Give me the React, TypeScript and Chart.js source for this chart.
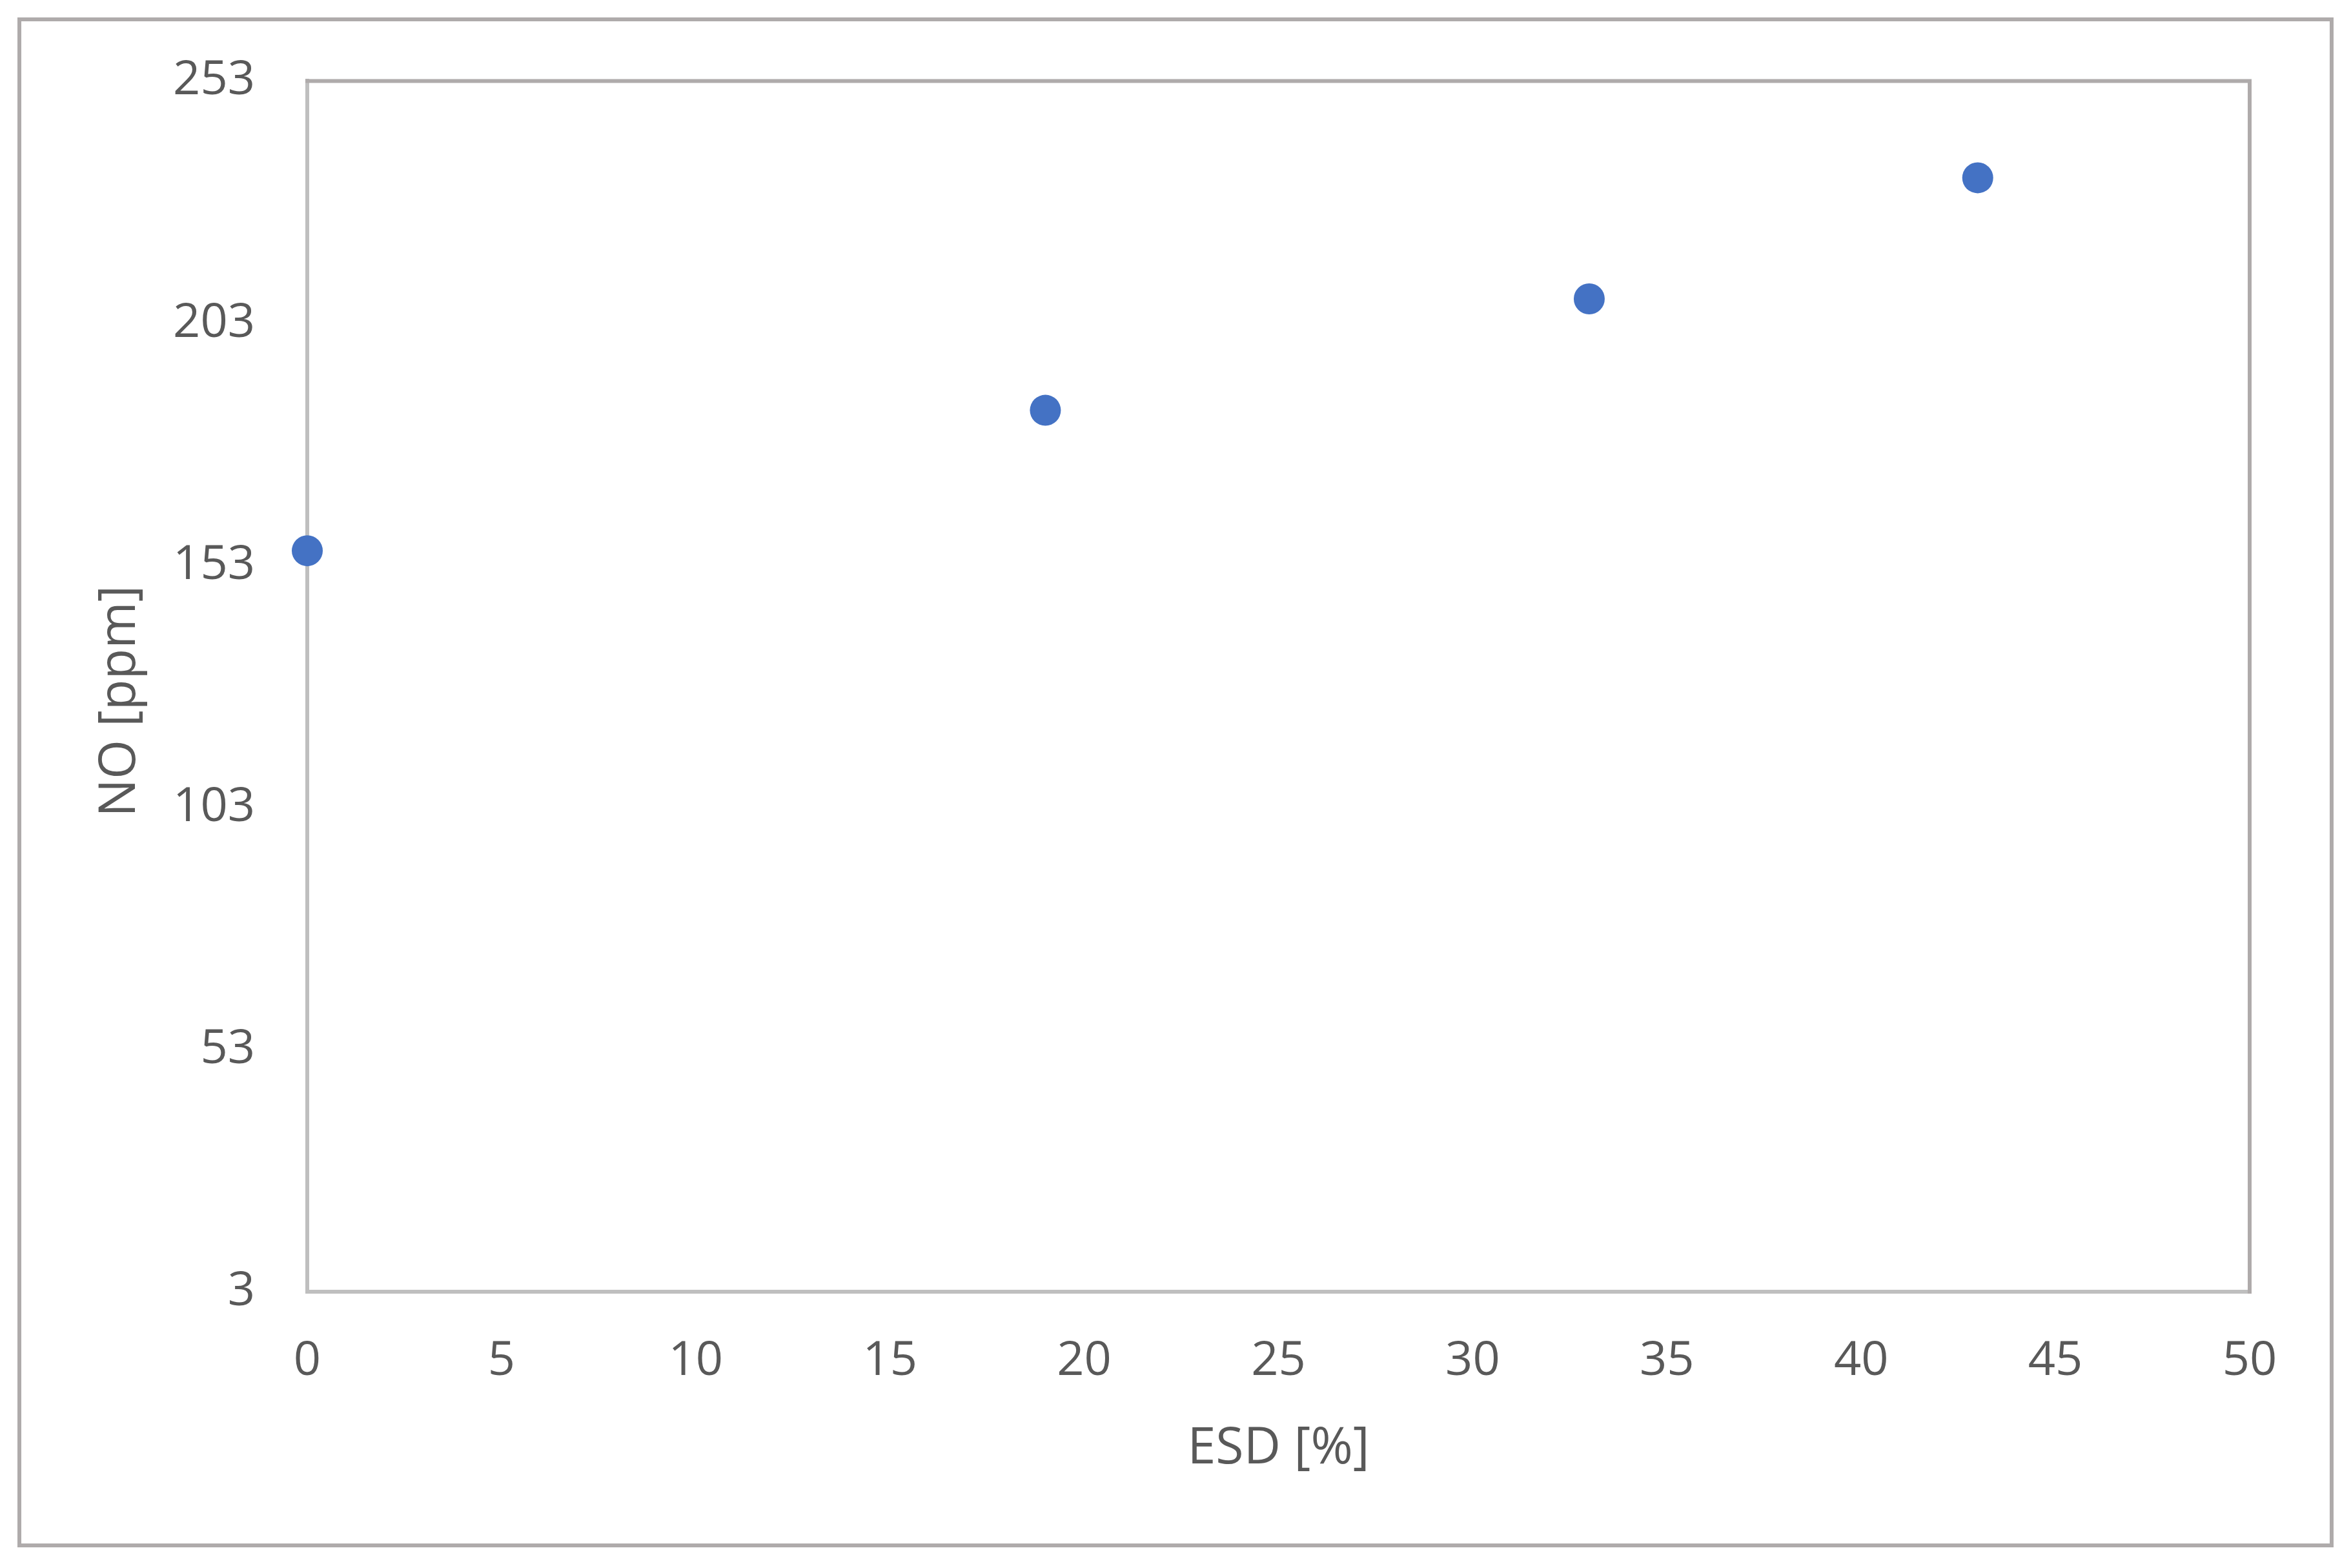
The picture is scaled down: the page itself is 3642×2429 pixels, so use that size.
import React, { useEffect, useRef } from "react";
import { Chart, registerables } from "chart.js";

Chart.register(...registerables);

// ---- Data ----
const esd: number[] = [0, 19, 33, 43];
const noPpm: number[] = [156, 185, 208, 233];
const xTicks: number[] = [0, 5, 10, 15, 20, 25, 30, 35, 40, 45, 50];
const yTicks: number[] = [3, 53, 103, 153, 203, 253];
const xTitle = "ESD [%]";
const yTitle = "NO [ppm]";

const W = 3642;
const H = 2429;
const FONT = "'Open Sans', 'Noto Sans', sans-serif";
const TEXT = "#595959";

const framePlugin = {
  id: "frame",
  beforeDraw(chart: any) {
    const ctx = chart.ctx;
    ctx.save();
    ctx.fillStyle = "#ffffff";
    ctx.fillRect(0, 0, chart.width, chart.height);
    ctx.strokeStyle = "#AFABAB";
    ctx.lineWidth = 6;
    ctx.strokeRect(30, 30, chart.width - 60, chart.height - 65);
    ctx.restore();
  },
  beforeDatasetsDraw(chart: any) {
    const ctx = chart.ctx;
    const { left, right, top, bottom } = chart.chartArea;
    ctx.save();
    ctx.strokeStyle = "#AFABAB";
    ctx.lineWidth = 6;
    ctx.lineCap = "square";
    ctx.beginPath();
    ctx.moveTo(left, top);
    ctx.lineTo(right, top);
    ctx.lineTo(right, bottom);
    ctx.stroke();
    ctx.restore();
  },
  afterDraw(chart: any) {
    // Y-axis title, placed like the original (slightly below the plot's middle)
    const ctx = chart.ctx;
    const { top, bottom } = chart.chartArea;
    ctx.save();
    ctx.translate(187, (top + bottom) / 2 + 23);
    ctx.rotate(-Math.PI / 2);
    ctx.fillStyle = TEXT;
    ctx.font = `78px ${FONT}`;
    ctx.textAlign = "center";
    ctx.textBaseline = "middle";
    ctx.fillText(yTitle, 0, 0);
    ctx.restore();
  },
};

export default function App() {
  const ref = useRef<HTMLCanvasElement | null>(null);

  useEffect(() => {
    document.body.style.margin = "0";
    const canvas = ref.current;
    if (!canvas) return;
    const chart = new Chart(canvas, {
      type: "scatter",
      data: {
        datasets: [
          {
            label: yTitle,
            data: esd.map((x, i) => ({ x, y: noPpm[i] })),
            backgroundColor: "#4472C4",
            borderWidth: 0,
            pointRadius: 24,
            pointHoverRadius: 24,
            clip: false as any,
          },
        ],
      },
      options: {
        animation: false,
        responsive: false,
        devicePixelRatio: 1,
        layout: { padding: { left: 0, top: 121, right: 157, bottom: 0 } },
        plugins: {
          legend: { display: false },
          tooltip: { enabled: false },
        },
        scales: {
          x: {
            type: "linear",
            position: "bottom",
            min: 0,
            max: 50,
            afterBuildTicks: (s: any) => {
              s.ticks = xTicks.map((v) => ({ value: v }));
            },
            afterFit: (s: any) => {
              s.height = H - 2001;
            },
            grid: { display: false, drawTicks: false },
            border: { display: true, color: "#BFBFBF", width: 6 },
            ticks: {
              padding: 64,
              color: TEXT,
              font: { family: FONT, size: 74 },
              maxRotation: 0,
              autoSkip: false,
            },
            title: {
              display: true,
              text: xTitle,
              color: TEXT,
              font: { family: FONT, size: 79 },
              padding: { top: 0, bottom: 137 },
            },
          },
          y: {
            type: "linear",
            position: "left",
            min: 3,
            max: 253,
            afterBuildTicks: (s: any) => {
              s.ticks = yTicks.map((v) => ({ value: v }));
            },
            afterFit: (s: any) => {
              s.width = 476;
            },
            grid: { display: false, drawTicks: false },
            border: { display: true, color: "#BFBFBF", width: 6 },
            ticks: {
              padding: 81,
              color: TEXT,
              font: { family: FONT, size: 74 },
              autoSkip: false,
            },
            title: { display: false, text: yTitle },
          },
        },
      },
      plugins: [framePlugin],
    });
    return () => chart.destroy();
  }, []);

  return (
    <div style={{ position: "absolute", left: 0, top: 0, width: W, height: H }}>
      <canvas ref={ref} width={W} height={H} style={{ width: W, height: H, display: "block" }} />
    </div>
  );
}
